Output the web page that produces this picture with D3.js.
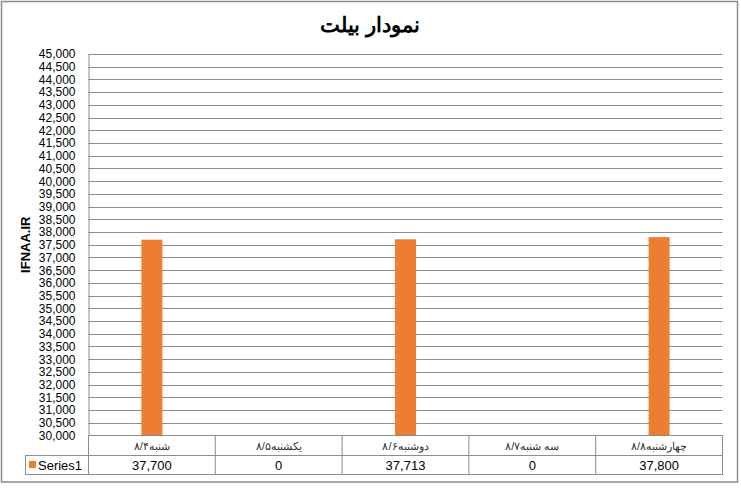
<!DOCTYPE html>
<html><head><meta charset="utf-8">
<script src="https://cdn.jsdelivr.net/npm/d3@7"></script>
<style>body{margin:0;background:#fff}svg{display:block}text{font-family:"Liberation Sans",Arial,sans-serif}</style>
</head><body>
<script>
const title = "نمودار بیلت";
const yAxisTitle = "IFNAA.IR";
const seriesName = "Series1";
const categories = ["شنبه۸/۴","یکشنبه۸/۵","دوشنبه۸/۶","سه شنبه۸/۷","چهارشنبه۸/۸"];
const values = [37700, 0, 37713, 0, 37800];
const yTicks = d3.range(30000, 45001, 500);

(function () {
const W = 741, H = 488;
const svg = d3.select("body").append("svg").attr("width", W).attr("height", H);
const fmt = d3.format(",");

svg.append("rect").attr("x",1.5).attr("y",1.5).attr("width",736).attr("height",480.5)
  .attr("fill","#fff").attr("stroke","#8c8c8c").attr("stroke-width",1.5);

const pL = 88.5, pR = 722.5, pT = 54, pB = 435.5;
const x = d3.scaleBand().domain(categories).range([pL, pR]).paddingInner(0).paddingOuter(0);
const y = d3.scaleLinear().domain([30000, 45000]).range([pB, pT]);

// gridlines
svg.append("g").selectAll("line").data(yTicks.filter(t => t > 30000)).join("line")
  .attr("x1", pL).attr("x2", pR)
  .attr("y1", d => Math.round(y(d)) + 0.5).attr("y2", d => Math.round(y(d)) + 0.5)
  .attr("stroke", "#8c8c8c").attr("stroke-width", 1);

// y axis
const ya = svg.append("g").attr("transform", `translate(${pL},0)`)
  .call(d3.axisLeft(y).tickValues(yTicks).tickFormat(fmt).tickSize(0).tickPadding(13));
ya.select(".domain").attr("stroke", "#8c8c8c");
ya.selectAll("text").attr("font-size", 12).attr("fill", "#000")
  .attr("font-family", "'Liberation Sans',Arial,sans-serif");

// bars
const bw = 21;
svg.append("g").selectAll("rect").data(values).join("rect")
  .attr("x", (d, i) => x(categories[i]) + x.bandwidth() / 2 - bw / 2)
  .attr("width", bw)
  .attr("y", d => d > 30000 ? y(d) : pB)
  .attr("height", d => d > 30000 ? pB - y(d) : 0)
  .attr("fill", "#ED7D31");

// data table
const r0 = pB, r1 = 455.5, r2 = 474.5, legL = 25.5;
const tg = svg.append("g").attr("stroke", "#8c8c8c").attr("stroke-width", 1).attr("fill", "none");
tg.append("line").attr("x1", pL).attr("x2", pR).attr("y1", r0).attr("y2", r0);
tg.append("line").attr("x1", legL).attr("x2", pR).attr("y1", r1).attr("y2", r1);
tg.append("line").attr("x1", legL).attr("x2", pR).attr("y1", r2).attr("y2", r2);
tg.append("line").attr("x1", legL).attr("x2", legL).attr("y1", r1).attr("y2", r2);
const edges = categories.map(c => x(c)).concat([pR]);
tg.selectAll(".v").data(edges).join("line").attr("class","v")
  .attr("x1", d => d).attr("x2", d => d).attr("y1", r0).attr("y2", r2);

svg.append("g").selectAll("text").data(categories).join("text")
  .attr("x", d => x(d) + x.bandwidth() / 2).attr("y", r0 + 14)
  .attr("text-anchor", "middle").attr("direction", "rtl")
  .attr("font-size", 11).attr("fill", "#333").text(d => d);

svg.append("g").selectAll("text").data(values).join("text")
  .attr("x", (d, i) => x(categories[i]) + x.bandwidth() / 2).attr("y", r1 + 14.5)
  .attr("text-anchor", "middle").attr("font-size", 13).attr("fill", "#000").text(d => fmt(d));

svg.append("rect").attr("x", 29).attr("y", r1 + 5.5).attr("width", 7).attr("height", 7).attr("fill", "#ED7D31");
svg.append("text").attr("x", 38).attr("y", r1 + 14.5).attr("font-size", 13).attr("fill", "#000").text(seriesName);

// titles
svg.append("text").attr("x", 370).attr("y", 32).attr("text-anchor", "middle")
  .attr("font-size", 21).attr("font-weight", "bold").attr("direction","rtl").attr("fill","#000").text(title);
svg.append("text").attr("transform", `translate(30,${(pT + pB) / 2}) rotate(-90)`)
  .attr("text-anchor", "middle").attr("font-size", 13).attr("font-weight", "bold").attr("fill","#000").text(yAxisTitle);
})();
</script>
</body></html>
